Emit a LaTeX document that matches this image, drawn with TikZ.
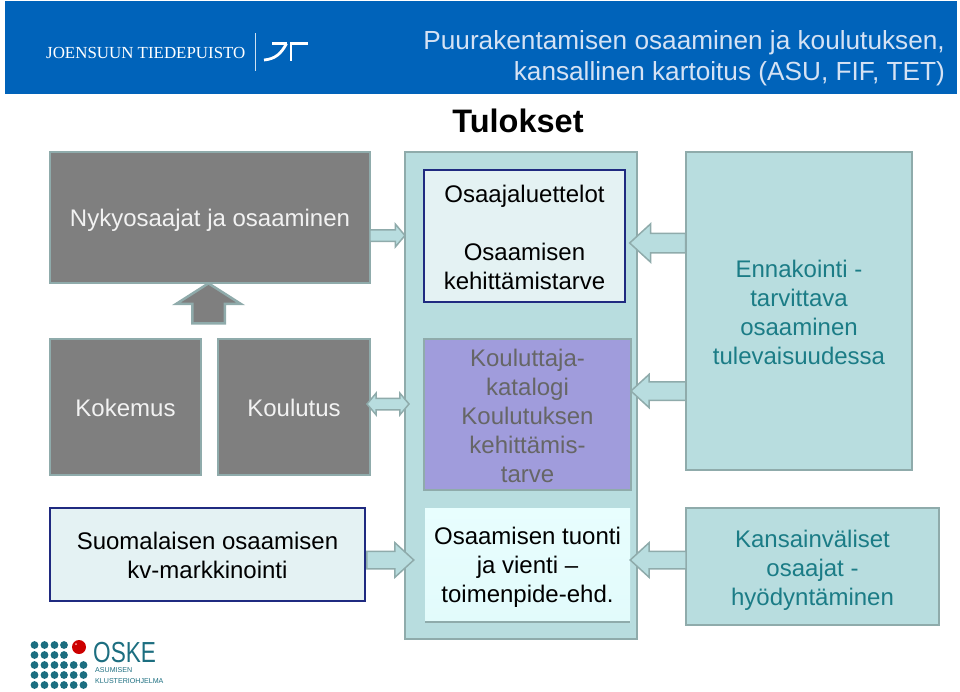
\documentclass[tikz,border=0pt]{standalone}
\usepackage{fontspec}
\setmainfont{Liberation Sans}
\newfontfamily\logoserif{Liberation Serif}
\usepackage{xcolor}
\usetikzlibrary{shapes.arrows}
\definecolor{bannerblue}{HTML}{0063BA}
\definecolor{titlelight}{HTML}{D5E2F4}
\definecolor{boxgray}{HTML}{7F7F7F}
\definecolor{edgeteal}{HTML}{8FABAB}
\definecolor{paleteal}{HTML}{B8DDDF}
\definecolor{palebox}{HTML}{E4F2F3}
\definecolor{navyedge}{HTML}{1F2A80}
\definecolor{violetbox}{HTML}{A09CDC}
\definecolor{violettext}{HTML}{666666}
\definecolor{tealtext}{HTML}{1B7C86}
\definecolor{oskedot}{HTML}{1C6E80}
\newcommand{\drop}[1]{\rule{0pt}{#1pt}}
\tikzset{
bodytext/.style={font=\fontsize{24}{29}\selectfont,align=center,inner sep=0pt,outer sep=0pt},
graybox/.style={bodytext,fill=boxgray,draw=edgeteal,line width=2.5pt,text=white!95!black},
tealbox/.style={bodytext,fill=paleteal,draw=edgeteal,line width=2.5pt,text=tealtext},
navybox/.style={bodytext,fill=palebox,draw=navyedge,line width=2.5pt,text=black},
rightblock/.style={single arrow,shape border rotate=0,fill=paleteal,draw=edgeteal,line width=1.5pt,inner xsep=0pt,outer sep=0pt},
leftblock/.style={rightblock,shape border rotate=180},
}
\begin{document}
\begin{tikzpicture}[x=1pt,y=-1pt]
\useasboundingbox (0,0) rectangle (960,691);
\fill[bannerblue](5,1) rectangle (957,94);
\node[text=white,font=\logoserif\fontsize{16.9}{20}\selectfont,anchor=west,inner sep=0pt] (park) at (46,52.5) {JOENSUUN TIEDEPUISTO};
\draw[white!80!bannerblue,line width=0.8pt](255,33)--(255,71);
\draw[white,line width=2.8pt](272,43.5)--(287,43.5);
\draw[white,line width=2.8pt](286.5,43.5).. controls (281,54) and (275,59) .. (264,60);
\draw[white,line width=2.8pt](308,43.5)--(291,43.5)--(291,61);
\node[text=titlelight,font=\fontsize{26.2}{31}\selectfont,align=right,anchor=east,inner sep=0pt] (maintitle) at (945,58) {Puurakentamisen osaaminen ja koulutuksen,\\kansallinen kartoitus (ASU, FIF, TET)};
\node[font=\bfseries\fontsize{32.5}{38}\selectfont,inner sep=0pt] (results) at (518,120.5) {Tulokset};

\node[tealbox,minimum width=232pt,minimum height=487pt] (column) at (521,395.5) {};
\node[graybox,minimum width=320pt,minimum height=131pt] (present) at (210,217.5) {\drop{23}Nykyosaajat ja osaaminen};
\node[graybox,minimum width=151pt,minimum height=136pt] (experience) at (125.5,407) {\drop{19.5}Kokemus};
\node[graybox,minimum width=152pt,minimum height=136pt] (training) at (294,407) {\drop{19.5}Koulutus};
\node[navybox,minimum width=315pt,minimum height=93pt] (marketing) at (207.5,554.5) {\drop{19.5}Suomalaisen osaamisen\\kv-markkinointi};
\node[navybox,minimum width=201pt,minimum height=132pt] (lists) at (524.5,236) {\drop{20.5}Osaajaluettelot\\[29pt]Osaamisen\\kehittämistarve};
\node[tealbox,fill=violetbox,text=violettext,minimum width=207pt,minimum height=151pt] (catalogue) at (527.5,414.5) {\drop{20.5}Kouluttaja-\\katalogi\\Koulutuksen\\kehittämis-\\tarve};
\node[bodytext,top color=white!70!paleteal!60!cyan!20,bottom color=paleteal!60!cyan!20,minimum width=205pt,minimum height=114pt] (trade) at (527.5,565) {\drop{21.5}Osaamisen tuonti\\ja vienti –\\toimenpide-ehd.};
\draw[edgeteal,line width=1.5pt](trade.south west)--(trade.south east);
\node[tealbox,minimum width=226pt,minimum height=318pt] (forecast) at (799,311) {\drop{20.5}Ennakointi -\\tarvittava\\osaaminen\\tulevaisuudessa};
\node[tealbox,minimum width=253pt,minimum height=117pt] (global) at (812.5,566.5) {\drop{24.5}Kansainväliset\\osaajat -\\hyödyntäminen};

\node[rightblock,inner ysep=5pt,minimum height=35pt,minimum width=21pt,single arrow head extend=5.5pt,single arrow tip angle=100] (arrowa) at (385,235.5) {};
\node[rightblock,double arrow,inner ysep=5pt,minimum height=42pt,minimum width=20pt,double arrow head extend=5pt,double arrow tip angle=100] (arrowb) at (388,404) {};
\node[rightblock,inner ysep=8pt,minimum height=47pt,minimum width=33pt,single arrow head extend=8.5pt,single arrow tip angle=85] (arrowc) at (385.5,560) {};
\node[leftblock,inner ysep=9pt,minimum height=56pt,minimum width=37pt,single arrow head extend=9.5pt,single arrow tip angle=85] (arrowd) at (663,243) {};
\node[leftblock,inner ysep=8.5pt,minimum height=55pt,minimum width=32pt,single arrow head extend=7.5pt,single arrow tip angle=85] (arrowe) at (663.5,391) {};
\node[leftblock,inner ysep=8pt,minimum height=56pt,minimum width=33pt,single arrow head extend=8.5pt,single arrow tip angle=85] (arrowf) at (663,560) {};
\node[rightblock,shape border rotate=90,fill=boxgray,line width=2.5pt,inner xsep=15pt,inner ysep=0pt,minimum height=40pt,minimum width=62pt,single arrow head extend=16pt,single arrow tip angle=115] (arrowup) at (208.5,308.5) {};

\foreach \y in {645,655}
\foreach \x in {34.5,44.5,54.5,64}
\fill[oskedot](\x,\y) circle (3.9);
\foreach \y in {665,675,685}
\foreach \x in {34.5,44.5,54.5,64,73.7,83.5}
\fill[oskedot](\x,\y) circle (3.9);
\fill[red!80!black](79,647) circle (7);
\fill[white!70!red](76,644) circle (1);
\node[text=oskedot,font=\fontsize{29}{30}\selectfont,anchor=west,inner sep=0pt,xscale=0.78] (oskeword) at (93,653) {OSKE};
\node[text=oskedot,font=\fontsize{7.1}{9}\selectfont,anchor=west,inner sep=0pt] (oskeline) at (95,670.5) {ASUMISEN};
\node[text=oskedot,font=\fontsize{7.1}{9}\selectfont,anchor=west,inner sep=0pt] (oskename) at (95,681.5) {KLUSTERIOHJELMA};
\end{tikzpicture}
\end{document}
